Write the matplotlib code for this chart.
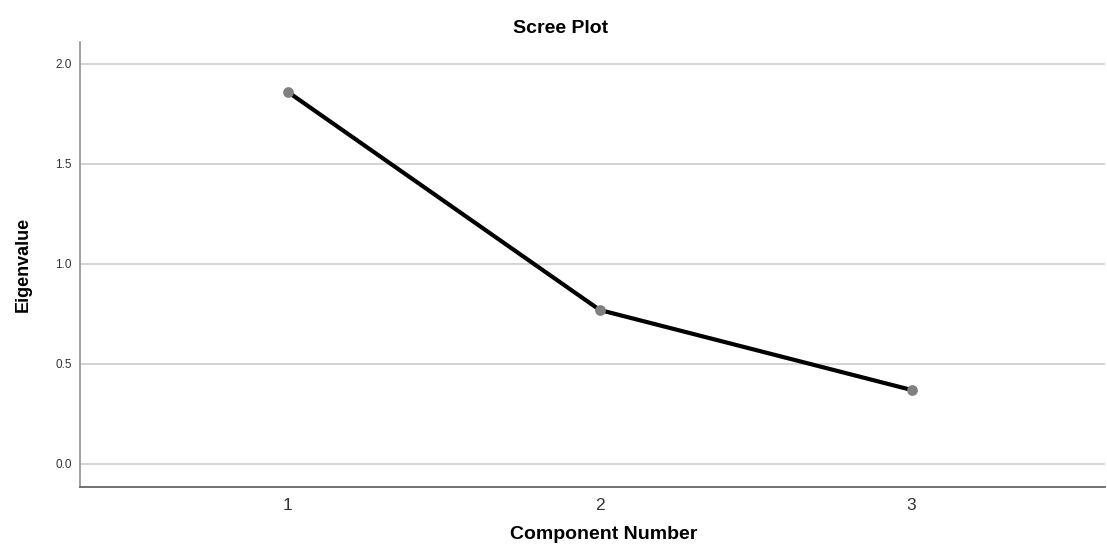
import matplotlib
matplotlib.use("Agg")
import matplotlib.pyplot as plt

components = [1, 2, 3]
eigenvalues = [1.86, 0.77, 0.37]
y_ticks = [0.0, 0.5, 1.0, 1.5, 2.0]
x_ticks = [1, 2, 3]

plt.rcParams['font.family'] = ['Liberation Sans', 'DejaVu Sans']

fig = plt.figure(figsize=(11.07, 5.46), dpi=100)
ax = fig.add_axes([80/1107, 59/546, 1025/1107, 445/546])

for y in y_ticks:
    ax.axhline(y, color='#d0d0d0', lw=1.3, zorder=0)

ax.plot(components, eigenvalues, color='black', lw=3, zorder=2,
        solid_capstyle='round')
ax.scatter(components, eigenvalues, s=45, color='#808080', zorder=3)

ax.set_xlim(0.333, 3.62)
ax.set_ylim(-0.115, 2.11)
ax.set_xticks(x_ticks)
ax.set_xticklabels([str(v) for v in x_ticks], fontsize=12.5, color='#333333')
ax.set_yticks(y_ticks)
ax.set_yticklabels([f"{v:.1f}" for v in y_ticks], fontsize=8.5, color='#333333')
ax.tick_params(axis='both', length=0)
ax.tick_params(axis='x', pad=8)
ax.tick_params(axis='y', pad=6)

for s in ['top', 'right']:
    ax.spines[s].set_visible(False)
ax.spines['left'].set_color('#999999')
ax.spines['left'].set_linewidth(1.3)
ax.spines['bottom'].set_color('#666666')
ax.spines['bottom'].set_linewidth(1.3)

ax.set_xlabel('Component Number', fontsize=14, fontweight='bold')
ax.xaxis.set_label_coords((604 - 80) / 1025, -(526 - 487) / 445, transform=ax.transAxes)
ax.xaxis.label.set_va('top')
ax.set_ylabel('Eigenvalue', fontsize=13, fontweight='bold', labelpad=17)
fig.text(561 / 1107, 1 - 28.5 / 546, 'Scree Plot', fontsize=14, fontweight='bold',
         ha='center', va='center')

fig.savefig('out.png', dpi=100)
